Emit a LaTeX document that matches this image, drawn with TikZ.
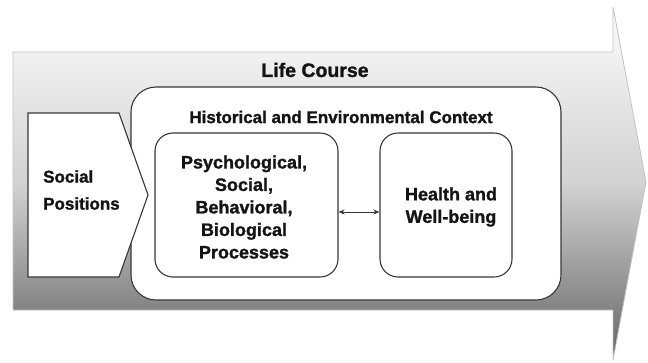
\documentclass[tikz,border=0pt]{standalone}
\usepackage{fontspec}
\setmainfont{Liberation Sans}[BoldFeatures={FakeBold=1.3}]
\usetikzlibrary{arrows.meta}
\definecolor{shtop}{RGB}{252,252,252}
\definecolor{shmid}{RGB}{210,210,210}
\definecolor{shbot}{RGB}{100,100,100}
\definecolor{edge}{RGB}{55,55,55}
\definecolor{arrowedge}{RGB}{195,195,195}
\definecolor{ink}{RGB}{20,20,20}
\begin{document}
\begin{tikzpicture}[x=1pt,y=-1pt,
  lbl/.style={font=\fontsize{17}{22}\selectfont\bfseries, text=ink, inner sep=0pt, align=center},
  big/.style={font=\fontsize{18}{22.5}\selectfont\bfseries},
  boxw/.style={draw=edge, line width=1.1pt, fill=white, rounded corners=#1},
  boxw/.default=18pt]
\useasboundingbox (0,0) rectangle (648,362);
% big life course arrow
\path[draw=arrowedge, line width=0.8pt, top color=shtop, bottom color=shbot, middle color=shmid]
  (13,52) coordinate (a1) -- (613,52) -- (613,7) -- (646,182) coordinate (tip) -- (613,360) -- (613,310) -- (13,310) -- cycle;
\node[lbl, font=\fontsize{19.5}{22}\selectfont\bfseries] (life) at (315,70) {Life Course};
% context box
\node[boxw=25pt, minimum width=430pt, minimum height=213pt, inner sep=0pt] (ctx) at (346,193.5) {};
\node[lbl] (ctxt) at (341,117) {Historical and Environmental Context};
% social positions
\draw[draw=edge, line width=1.1pt, fill=white]
  (28,113) coordinate (s1) -- (119,113) -- (148,195) -- (119,277) -- (28,277) -- cycle;
\node[lbl, align=left, font=\fontsize{17}{27}\selectfont\bfseries, anchor=west] (social) at (43,190) {Social\\Positions};
% inner boxes
\node[boxw, minimum width=183pt, minimum height=144pt, inner sep=0pt] (psych) at (246.5,205) {};
\node[lbl, big] (psycht) at (244,207) {Psychological,\\Social,\\Behavioral,\\Biological\\Processes};
\node[boxw, minimum width=132pt, minimum height=144pt, inner sep=0pt] (health) at (446,205) {};
\node[lbl, big] (healtht) at (451,207) {Health and\\Well-being};
\draw[{Stealth[length=6pt,width=5pt]}-{Stealth[length=6pt,width=5pt]}, line width=1pt, draw=edge]
  ([yshift=-7pt]psych.east) -- ([yshift=-7pt]health.west);
\end{tikzpicture}
\end{document}
